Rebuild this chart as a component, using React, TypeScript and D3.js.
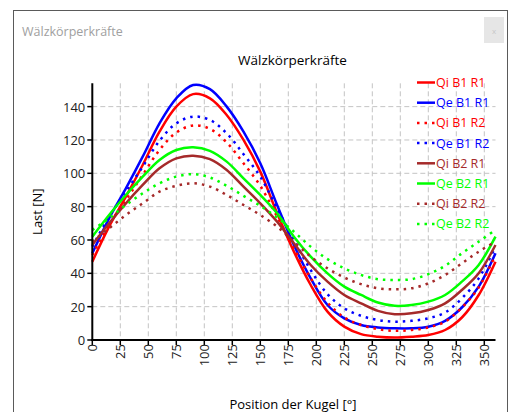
import React from "react";
import * as d3 from "d3";

const positions = [0, 15, 30, 45, 60, 75, 90, 105, 120, 135, 150, 165, 180, 195, 210, 225, 240, 255, 270, 285, 300, 315, 330, 345, 360];

const qiB1R1 = [47, 68, 86, 105, 125, 140, 147.5, 145, 135, 120, 101, 76, 53, 33, 17, 8, 3.5, 2, 1.5, 2, 3, 6, 13.5, 27, 47];
const qeB1R1 = [52, 73, 91, 110, 130, 145, 153, 150.5, 140, 125, 106, 81, 57, 37, 21, 13, 9, 7.5, 7, 7, 8, 11.5, 19.5, 32, 52];
const qiB1R2 = [51, 69, 84, 99, 114, 124.5, 128.7, 126.7, 118.5, 106, 92.5, 74, 55, 37, 22.5, 13.5, 9, 6.5, 5.5, 6, 7.5, 11, 19.5, 31.5, 51];
const qeB1R2 = [56, 74, 89, 104, 119.5, 130, 134, 132, 124, 111.5, 98, 79, 60, 42, 27.5, 19, 14.5, 12, 11, 11.5, 13, 16.5, 25, 37, 56];
const qiB2R1 = [57, 70, 82, 93, 103, 109, 110.6, 108.5, 102, 92, 82, 71, 58, 45, 35, 27, 22, 17.5, 15.5, 16, 18, 22, 30, 40, 57];
const qeB2R1 = [62, 75, 87, 98, 108, 114, 115.6, 113.5, 107, 97, 87, 76, 62, 50, 40, 32, 27, 22.5, 20.5, 21, 23, 27, 35, 45, 62];
const qiB2R2 = [59, 67, 75, 82, 89, 92.5, 94, 92, 87, 81, 75, 68, 59, 50, 43, 37.5, 33.5, 31, 30.4, 31, 34, 39, 46, 53, 59];
const qeB2R2 = [66, 73, 81, 88, 94, 98, 99.5, 97.5, 92.5, 86.5, 80.5, 73.5, 65, 56, 48.5, 43, 39, 36.5, 36, 36.5, 39.5, 44.5, 52, 59, 66];

const seriesNames = ["Qi B1 R1", "Qe B1 R1", "Qi B1 R2", "Qe B1 R2", "Qi B2 R1", "Qe B2 R1", "Qi B2 R2", "Qe B2 R2"];
const seriesValues = [qiB1R1, qeB1R1, qiB1R2, qeB1R2, qiB2R1, qeB2R1, qiB2R2, qeB2R2];
const seriesColors = ["#ff0000", "#0000ff", "#ff0000", "#0000ff", "#a52a2a", "#00ff00", "#a52a2a", "#00ff00"];
const seriesDotted = [false, false, true, true, false, false, true, true];

const xTicks = [0, 25, 50, 75, 100, 125, 150, 175, 200, 225, 250, 275, 300, 325, 350];
const yTicks = [0, 20, 40, 60, 80, 100, 120, 140];

const windowTitle = "Wälzkörperkräfte";
const chartTitle = "Wälzkörperkräfte";
const xTitle = "Position der Kugel [°]";
const yTitle = "Last [N]";

const FONT = "'Open Sans', 'Noto Sans', sans-serif";

export default function App() {
  const left = 92.3, right = 495.5, top = 83.3, bottom = 340;
  const x = d3.scaleLinear().domain([0, 360]).range([left, right]);
  const y = d3.scaleLinear().domain([0, 154]).range([bottom, top]);
  const line = d3
    .line<number>()
    .x((_, i) => x(positions[i]))
    .y((d) => y(d))
    .curve(d3.curveCatmullRom.alpha(0.5));

  const legendX = 417, legendY = 82.5, legendStep = 20.2;

  return (
    <svg
      width={510}
      height={412}
      style={{ position: "absolute", left: 0, top: 0, background: "#fff" }}
      fontFamily={FONT}
    >
      <rect x={0} y={0} width={510} height={412} fill="#fff" />
      {/* window frame */}
      <rect x={13.5} y={10.5} width={494} height={420} fill="#fff" stroke="#5a5a5a" strokeWidth={1} />
      <text x={22} y={31} fontSize={12.5} fill="#a0a0a0" dominantBaseline="central">
        {windowTitle}
      </text>
      <rect x={484} y={17} width={20} height={26} fill="#e6e6e6" />
      <text x={494} y={30} fontSize={8} fill="#c8c8c8" textAnchor="middle" dominantBaseline="central">
        x
      </text>

      {/* chart title */}
      <text x={292.5} y={60} fontSize={13.5} fill="#000" textAnchor="middle" dominantBaseline="central">
        {chartTitle}
      </text>

      {/* gridlines */}
      {xTicks.filter((t) => t > 0).map((t) => (
        <line
          key={"gx" + t}
          x1={x(t)}
          x2={x(t)}
          y1={top}
          y2={bottom}
          stroke="#c4c4c4"
          strokeWidth={1}
          strokeDasharray="5 3"
        />
      ))}
      {yTicks.filter((t) => t > 0).map((t) => (
        <line
          key={"gy" + t}
          x1={left}
          x2={right}
          y1={y(t)}
          y2={y(t)}
          stroke="#c4c4c4"
          strokeWidth={1}
          strokeDasharray="5 3"
        />
      ))}

      {/* series */}
      {seriesValues.map((vals, i) => (
        <path
          key={"s" + i}
          d={line(vals) || ""}
          fill="none"
          stroke={seriesColors[i]}
          strokeWidth={2.5}
          strokeDasharray={seriesDotted[i] ? "2.5 5" : undefined}
        />
      ))}

      {/* axes */}
      <line x1={left} x2={left} y1={top} y2={bottom + 1} stroke="#000" strokeWidth={2} />
      <line x1={left - 1} x2={right} y1={bottom} y2={bottom} stroke="#000" strokeWidth={2} />
      {yTicks.map((t) => (
        <g key={"ty" + t}>
          <line x1={left - 5} x2={left} y1={y(t)} y2={y(t)} stroke="#000" strokeWidth={1.5} />
          <text
            x={left - 7}
            y={y(t)}
            fontSize={13}
            fill="#222"
            textAnchor="end"
            dominantBaseline="central"
          >
            {t}
          </text>
        </g>
      ))}
      {xTicks.map((t) => (
        <g key={"tx" + t}>
          <line x1={x(t)} x2={x(t)} y1={bottom} y2={bottom + 5} stroke="#000" strokeWidth={1.5} />
          <text
            transform={`translate(${x(t)},${bottom + 4}) rotate(-90)`}
            fontSize={13}
            fill="#222"
            textAnchor="end"
            dominantBaseline="central"
          >
            {t}
          </text>
        </g>
      ))}

      {/* axis titles */}
      <text x={293} y={404} fontSize={13} fill="#000" textAnchor="middle" dominantBaseline="central">
        {xTitle}
      </text>
      <text
        transform={`translate(37,${(top + bottom) / 2}) rotate(-90)`}
        fontSize={13}
        fill="#000"
        textAnchor="middle"
        dominantBaseline="central"
      >
        {yTitle}
      </text>

      {/* legend */}
      {seriesNames.map((name, i) => {
        const ly = legendY + i * legendStep;
        return (
          <g key={"l" + i}>
            <line
              x1={legendX}
              x2={legendX + 18}
              y1={ly}
              y2={ly}
              stroke={seriesColors[i]}
              strokeWidth={2.5}
              strokeDasharray={seriesDotted[i] ? "2.5 5" : undefined}
            />
            <text x={legendX + 19} y={ly} fontSize={12.5} fill={seriesColors[i]} dominantBaseline="central">
              {name}
            </text>
          </g>
        );
      })}
    </svg>
  );
}
